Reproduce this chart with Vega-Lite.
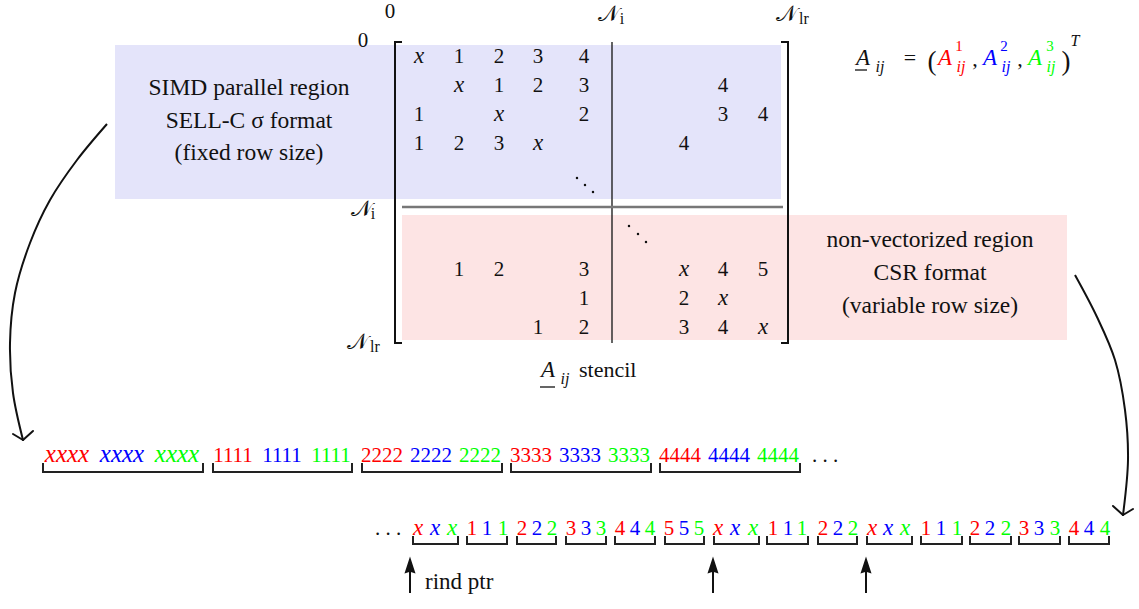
{
  "$schema": "https://vega.github.io/schema/vega-lite/v6.json",
  "width": 1139,
  "height": 609,
  "autosize": {"type": "fit", "contains": "padding"},
  "padding": 0,
  "background": "white",
  "config": {"view": {"stroke": null}, "text": {"font": "Liberation Serif"}},
  "datasets": {
    "matrix": [
      {"x": 419, "y": 63, "v": "x"}, {"x": 459, "y": 63, "v": "1"}, {"x": 499, "y": 63, "v": "2"}, {"x": 538, "y": 63, "v": "3"}, {"x": 584, "y": 63, "v": "4"},
      {"x": 459, "y": 92, "v": "x"}, {"x": 499, "y": 92, "v": "1"}, {"x": 538, "y": 92, "v": "2"}, {"x": 584, "y": 92, "v": "3"}, {"x": 723, "y": 92, "v": "4"},
      {"x": 419, "y": 121, "v": "1"}, {"x": 499, "y": 121, "v": "x"}, {"x": 584, "y": 121, "v": "2"}, {"x": 723, "y": 121, "v": "3"}, {"x": 763, "y": 121, "v": "4"},
      {"x": 419, "y": 150, "v": "1"}, {"x": 459, "y": 150, "v": "2"}, {"x": 499, "y": 150, "v": "3"}, {"x": 538, "y": 150, "v": "x"}, {"x": 684, "y": 150, "v": "4"},
      {"x": 459, "y": 276, "v": "1"}, {"x": 499, "y": 276, "v": "2"}, {"x": 584, "y": 276, "v": "3"}, {"x": 684, "y": 276, "v": "x"}, {"x": 723, "y": 276, "v": "4"}, {"x": 763, "y": 276, "v": "5"},
      {"x": 584, "y": 305, "v": "1"}, {"x": 684, "y": 305, "v": "2"}, {"x": 723, "y": 305, "v": "x"},
      {"x": 538, "y": 334, "v": "1"}, {"x": 584, "y": 334, "v": "2"}, {"x": 684, "y": 334, "v": "3"}, {"x": 723, "y": 334, "v": "4"}, {"x": 763, "y": 334, "v": "x"}
    ],
    "seq": [
      {"x": 67, "y": 462, "c": "1", "t": "xxxx"}, {"x": 122, "y": 462, "c": "2", "t": "xxxx"}, {"x": 177, "y": 462, "c": "3", "t": "xxxx"},
      {"x": 233, "y": 462, "c": "1", "t": "1111"}, {"x": 282, "y": 462, "c": "2", "t": "1111"}, {"x": 331, "y": 462, "c": "3", "t": "1111"},
      {"x": 382, "y": 462, "c": "1", "t": "2222"}, {"x": 431, "y": 462, "c": "2", "t": "2222"}, {"x": 480, "y": 462, "c": "3", "t": "2222"},
      {"x": 531, "y": 462, "c": "1", "t": "3333"}, {"x": 580, "y": 462, "c": "2", "t": "3333"}, {"x": 629, "y": 462, "c": "3", "t": "3333"},
      {"x": 680, "y": 462, "c": "1", "t": "4444"}, {"x": 729, "y": 462, "c": "2", "t": "4444"}, {"x": 778, "y": 462, "c": "3", "t": "4444"},
      {"x": 418, "y": 535, "c": "1", "t": "x"}, {"x": 435, "y": 535, "c": "2", "t": "x"}, {"x": 452, "y": 535, "c": "3", "t": "x"},
      {"x": 472, "y": 535, "c": "1", "t": "1"}, {"x": 487, "y": 535, "c": "2", "t": "1"}, {"x": 503, "y": 535, "c": "3", "t": "1"},
      {"x": 522, "y": 535, "c": "1", "t": "2"}, {"x": 537, "y": 535, "c": "2", "t": "2"}, {"x": 552, "y": 535, "c": "3", "t": "2"},
      {"x": 571, "y": 535, "c": "1", "t": "3"}, {"x": 586, "y": 535, "c": "2", "t": "3"}, {"x": 601, "y": 535, "c": "3", "t": "3"},
      {"x": 620, "y": 535, "c": "1", "t": "4"}, {"x": 635, "y": 535, "c": "2", "t": "4"}, {"x": 650, "y": 535, "c": "3", "t": "4"},
      {"x": 669, "y": 535, "c": "1", "t": "5"}, {"x": 684, "y": 535, "c": "2", "t": "5"}, {"x": 699, "y": 535, "c": "3", "t": "5"},
      {"x": 718, "y": 535, "c": "1", "t": "x"}, {"x": 735, "y": 535, "c": "2", "t": "x"}, {"x": 753, "y": 535, "c": "3", "t": "x"},
      {"x": 773, "y": 535, "c": "1", "t": "1"}, {"x": 788, "y": 535, "c": "2", "t": "1"}, {"x": 802, "y": 535, "c": "3", "t": "1"},
      {"x": 823, "y": 535, "c": "1", "t": "2"}, {"x": 838, "y": 535, "c": "2", "t": "2"}, {"x": 853, "y": 535, "c": "3", "t": "2"},
      {"x": 872, "y": 535, "c": "1", "t": "x"}, {"x": 888, "y": 535, "c": "2", "t": "x"}, {"x": 905, "y": 535, "c": "3", "t": "x"},
      {"x": 926, "y": 535, "c": "1", "t": "1"}, {"x": 941, "y": 535, "c": "2", "t": "1"}, {"x": 957, "y": 535, "c": "3", "t": "1"},
      {"x": 975, "y": 535, "c": "1", "t": "2"}, {"x": 990, "y": 535, "c": "2", "t": "2"}, {"x": 1006, "y": 535, "c": "3", "t": "2"},
      {"x": 1024, "y": 535, "c": "1", "t": "3"}, {"x": 1039, "y": 535, "c": "2", "t": "3"}, {"x": 1055, "y": 535, "c": "3", "t": "3"},
      {"x": 1074, "y": 535, "c": "1", "t": "4"}, {"x": 1089, "y": 535, "c": "2", "t": "4"}, {"x": 1105, "y": 535, "c": "3", "t": "4"}
    ],
    "brackets": [
      {"x1": 43, "x2": 203, "top": 464, "bot": 472}, {"x1": 213, "x2": 352, "top": 464, "bot": 472}, {"x1": 362, "x2": 502, "top": 464, "bot": 472},
      {"x1": 511, "x2": 651, "top": 464, "bot": 472}, {"x1": 660, "x2": 800, "top": 464, "bot": 472},
      {"x1": 413, "x2": 458, "top": 537, "bot": 544}, {"x1": 467, "x2": 507, "top": 537, "bot": 544}, {"x1": 517, "x2": 556, "top": 537, "bot": 544},
      {"x1": 566, "x2": 606, "top": 537, "bot": 544}, {"x1": 615, "x2": 655, "top": 537, "bot": 544}, {"x1": 665, "x2": 704, "top": 537, "bot": 544},
      {"x1": 714, "x2": 759, "top": 537, "bot": 544}, {"x1": 767, "x2": 808, "top": 537, "bot": 544}, {"x1": 818, "x2": 857, "top": 537, "bot": 544},
      {"x1": 867, "x2": 912, "top": 537, "bot": 544}, {"x1": 921, "x2": 962, "top": 537, "bot": 544}, {"x1": 970, "x2": 1011, "top": 537, "bot": 544},
      {"x1": 1019, "x2": 1060, "top": 537, "bot": 544}, {"x1": 1069, "x2": 1109, "top": 537, "bot": 544}
    ],
    "arrows": [
      {"x": 410, "y": 565, "bot": 593}, {"x": 713, "y": 565, "bot": 593}, {"x": 866, "y": 565, "bot": 593}
    ]
  },
  "layer": [
    {
      "data": {"values": [
        {"region": "SIMD", "x": 115, "x2": 781, "y": 45, "y2": 199},
        {"region": "CSR", "x": 402, "x2": 1067, "y": 215, "y2": 340}
      ]},
      "mark": {"type": "rect"},
      "encoding": {
        "x": {"field": "x", "type": "quantitative", "scale": {"domain": [0, 1139], "nice": false, "zero": false}, "axis": null},
        "x2": {"field": "x2"},
        "y": {"field": "y", "type": "quantitative", "scale": {"domain": [0, 609], "nice": false, "zero": false, "reverse": true}, "axis": null},
        "y2": {"field": "y2"},
        "fill": {"field": "region", "type": "nominal", "scale": {"domain": ["SIMD", "CSR"], "range": ["#e4e4fa", "#fde4e4"]}, "legend": null}
      }
    },
    {
      "data": {"values": [
        {"x": 395, "y": 42, "x2": 395, "y2": 343}, {"x": 395, "y": 42, "x2": 401, "y2": 42}, {"x": 395, "y": 343, "x2": 401, "y2": 343},
        {"x": 788, "y": 42, "x2": 788, "y2": 343}, {"x": 782, "y": 42, "x2": 788, "y2": 42}, {"x": 782, "y": 343, "x2": 788, "y2": 343}
      ]},
      "mark": {"type": "rule", "color": "#111", "strokeWidth": 2, "strokeCap": "square"},
      "encoding": {
        "x": {"field": "x", "type": "quantitative", "axis": null}, "x2": {"field": "x2"},
        "y": {"field": "y", "type": "quantitative", "axis": null}, "y2": {"field": "y2"}
      }
    },
    {
      "data": {"values": [{"x": 612, "y": 42, "x2": 612, "y2": 343}]},
      "mark": {"type": "rule", "color": "#111", "strokeWidth": 1.3},
      "encoding": {
        "x": {"field": "x", "type": "quantitative", "axis": null}, "x2": {"field": "x2"},
        "y": {"field": "y", "type": "quantitative", "axis": null}, "y2": {"field": "y2"}
      }
    },
    {
      "data": {"values": [{"x": 402, "y": 207, "x2": 783, "y2": 207}]},
      "mark": {"type": "rule", "color": "#777", "strokeWidth": 2.5},
      "encoding": {
        "x": {"field": "x", "type": "quantitative", "axis": null}, "x2": {"field": "x2"},
        "y": {"field": "y", "type": "quantitative", "axis": null}, "y2": {"field": "y2"}
      }
    },
    {
      "data": {"name": "matrix"},
      "transform": [{"filter": "datum.v != 'x'"}],
      "mark": {"type": "text", "fontSize": 21, "align": "center", "baseline": "alphabetic", "color": "#111"},
      "encoding": {
        "x": {"field": "x", "type": "quantitative", "axis": null},
        "y": {"field": "y", "type": "quantitative", "axis": null},
        "text": {"field": "v"}
      }
    },
    {
      "data": {"name": "matrix"},
      "transform": [{"filter": "datum.v == 'x'"}],
      "mark": {"type": "text", "fontSize": 23, "fontStyle": "italic", "align": "center", "baseline": "alphabetic", "color": "#111"},
      "encoding": {
        "x": {"field": "x", "type": "quantitative", "axis": null},
        "y": {"field": "y", "type": "quantitative", "axis": null},
        "text": {"field": "v"}
      }
    },
    {
      "data": {"values": [
        {"x": 577, "y": 178}, {"x": 585, "y": 185}, {"x": 593, "y": 192},
        {"x": 629, "y": 226}, {"x": 638, "y": 234}, {"x": 646, "y": 242}
      ]},
      "mark": {"type": "circle", "size": 6, "color": "#111", "opacity": 1},
      "encoding": {
        "x": {"field": "x", "type": "quantitative", "axis": null},
        "y": {"field": "y", "type": "quantitative", "axis": null}
      }
    },
    {
      "data": {"values": [{"x": 390, "y": 18, "t": "0"}, {"x": 363, "y": 47, "t": "0"}]},
      "mark": {"type": "text", "fontSize": 21, "align": "center", "baseline": "alphabetic", "color": "#111"},
      "encoding": {
        "x": {"field": "x", "type": "quantitative", "axis": null},
        "y": {"field": "y", "type": "quantitative", "axis": null},
        "text": {"field": "t"}
      }
    },
    {
      "data": {"values": [{"x": 608, "y": 21, "t": "𝒩"}, {"x": 786, "y": 21, "t": "𝒩"}, {"x": 361, "y": 216, "t": "𝒩"}, {"x": 357, "y": 349, "t": "𝒩"}]},
      "mark": {"type": "text", "fontSize": 22, "align": "center", "baseline": "alphabetic", "color": "#111"},
      "encoding": {
        "x": {"field": "x", "type": "quantitative", "axis": null},
        "y": {"field": "y", "type": "quantitative", "axis": null},
        "text": {"field": "t"}
      }
    },
    {
      "data": {"values": [{"x": 622, "y": 24, "t": "i"}, {"x": 804, "y": 24, "t": "lr"}, {"x": 373, "y": 219, "t": "i"}, {"x": 375, "y": 352, "t": "lr"}]},
      "mark": {"type": "text", "fontSize": 16, "align": "center", "baseline": "alphabetic", "color": "#111"},
      "encoding": {
        "x": {"field": "x", "type": "quantitative", "axis": null},
        "y": {"field": "y", "type": "quantitative", "axis": null},
        "text": {"field": "t"}
      }
    },
    {
      "data": {"values": [
        {"x": 249, "y": 95, "t": "SIMD parallel region"}, {"x": 249, "y": 128, "t": "SELL-C σ format"}, {"x": 249, "y": 160, "t": "(fixed row size)"},
        {"x": 930, "y": 247, "t": "non-vectorized region"}, {"x": 930, "y": 280, "t": "CSR format"}, {"x": 930, "y": 313, "t": "(variable row size)"}
      ]},
      "mark": {"type": "text", "fontSize": 23.5, "align": "center", "baseline": "alphabetic", "color": "#111"},
      "encoding": {
        "x": {"field": "x", "type": "quantitative", "axis": null},
        "y": {"field": "y", "type": "quantitative", "axis": null},
        "text": {"field": "t"}
      }
    },
    {
      "data": {"values": [
        {"x": 863, "y": 65, "c": "0", "t": "A"}, {"x": 945, "y": 65, "c": "1", "t": "A"}, {"x": 990, "y": 65, "c": "2", "t": "A"}, {"x": 1035, "y": 65, "c": "3", "t": "A"},
        {"x": 548, "y": 377, "c": "0", "t": "A"}
      ]},
      "mark": {"type": "text", "fontSize": 23, "fontStyle": "italic", "align": "center", "baseline": "alphabetic"},
      "encoding": {
        "x": {"field": "x", "type": "quantitative", "axis": null},
        "y": {"field": "y", "type": "quantitative", "axis": null},
        "text": {"field": "t"},
        "color": {"field": "c", "type": "nominal", "scale": {"domain": ["0", "1", "2", "3"], "range": ["#111111", "#ff0000", "#0000ff", "#00ff00"]}, "legend": null}
      }
    },
    {
      "data": {"values": [
        {"x": 880, "y": 72, "c": "0", "t": "ij"}, {"x": 961, "y": 72, "c": "1", "t": "ij"}, {"x": 1006, "y": 72, "c": "2", "t": "ij"}, {"x": 1051, "y": 72, "c": "3", "t": "ij"},
        {"x": 565, "y": 384, "c": "0", "t": "ij"}, {"x": 1075, "y": 46, "c": "0", "t": "T"}
      ]},
      "mark": {"type": "text", "fontSize": 16, "fontStyle": "italic", "align": "center", "baseline": "alphabetic"},
      "encoding": {
        "x": {"field": "x", "type": "quantitative", "axis": null},
        "y": {"field": "y", "type": "quantitative", "axis": null},
        "text": {"field": "t"},
        "color": {"field": "c", "type": "nominal", "scale": {"domain": ["0", "1", "2", "3"], "range": ["#111111", "#ff0000", "#0000ff", "#00ff00"]}, "legend": null}
      }
    },
    {
      "data": {"values": [
        {"x": 959, "y": 51, "c": "1", "t": "1"}, {"x": 1004, "y": 51, "c": "2", "t": "2"}, {"x": 1050, "y": 51, "c": "3", "t": "3"}
      ]},
      "mark": {"type": "text", "fontSize": 15, "align": "center", "baseline": "alphabetic"},
      "encoding": {
        "x": {"field": "x", "type": "quantitative", "axis": null},
        "y": {"field": "y", "type": "quantitative", "axis": null},
        "text": {"field": "t"},
        "color": {"field": "c", "type": "nominal", "scale": {"domain": ["0", "1", "2", "3"], "range": ["#111111", "#ff0000", "#0000ff", "#00ff00"]}, "legend": null}
      }
    },
    {
      "data": {"values": [
        {"x": 910, "y": 65, "t": "="}, {"x": 975, "y": 66, "t": ","}, {"x": 1020, "y": 66, "t": ","}
      ]},
      "mark": {"type": "text", "fontSize": 22, "align": "center", "baseline": "alphabetic", "color": "#111"},
      "encoding": {
        "x": {"field": "x", "type": "quantitative", "axis": null},
        "y": {"field": "y", "type": "quantitative", "axis": null},
        "text": {"field": "t"}
      }
    },
    {
      "data": {"values": [{"x": 932, "y": 70, "t": "("}, {"x": 1066, "y": 70, "t": ")"}]},
      "mark": {"type": "text", "fontSize": 27, "align": "center", "baseline": "alphabetic", "color": "#111"},
      "encoding": {
        "x": {"field": "x", "type": "quantitative", "axis": null},
        "y": {"field": "y", "type": "quantitative", "axis": null},
        "text": {"field": "t"}
      }
    },
    {
      "data": {"values": [{"x": 579, "y": 377, "t": "stencil"}]},
      "mark": {"type": "text", "fontSize": 22, "align": "left", "baseline": "alphabetic", "color": "#111"},
      "encoding": {
        "x": {"field": "x", "type": "quantitative", "axis": null},
        "y": {"field": "y", "type": "quantitative", "axis": null},
        "text": {"field": "t"}
      }
    },
    {
      "data": {"values": [{"x": 855, "y": 70, "x2": 867, "y2": 70}, {"x": 540, "y": 387, "x2": 555, "y2": 387}]},
      "mark": {"type": "rule", "color": "#111", "strokeWidth": 1.3},
      "encoding": {
        "x": {"field": "x", "type": "quantitative", "axis": null}, "x2": {"field": "x2"},
        "y": {"field": "y", "type": "quantitative", "axis": null}, "y2": {"field": "y2"}
      }
    },
    {
      "data": {"name": "seq"},
      "transform": [{"filter": "indexof(datum.t, 'x') < 0"}],
      "mark": {"type": "text", "fontSize": 21, "align": "center", "baseline": "alphabetic"},
      "encoding": {
        "x": {"field": "x", "type": "quantitative", "axis": null},
        "y": {"field": "y", "type": "quantitative", "axis": null},
        "text": {"field": "t"},
        "color": {"field": "c", "type": "nominal", "scale": {"domain": ["0", "1", "2", "3"], "range": ["#111111", "#ff0000", "#0000ff", "#00ff00"]}, "legend": null}
      }
    },
    {
      "data": {"name": "seq"},
      "transform": [{"filter": "datum.t == 'x'"}],
      "mark": {"type": "text", "fontSize": 23, "fontStyle": "italic", "align": "center", "baseline": "alphabetic"},
      "encoding": {
        "x": {"field": "x", "type": "quantitative", "axis": null},
        "y": {"field": "y", "type": "quantitative", "axis": null},
        "text": {"field": "t"},
        "color": {"field": "c", "type": "nominal", "scale": {"domain": ["0", "1", "2", "3"], "range": ["#111111", "#ff0000", "#0000ff", "#00ff00"]}, "legend": null}
      }
    },
    {
      "data": {"name": "seq"},
      "transform": [{"filter": "datum.t == 'xxxx'"}],
      "mark": {"type": "text", "fontSize": 25, "fontStyle": "italic", "align": "center", "baseline": "alphabetic"},
      "encoding": {
        "x": {"field": "x", "type": "quantitative", "axis": null},
        "y": {"field": "y", "type": "quantitative", "axis": null},
        "text": {"field": "t"},
        "color": {"field": "c", "type": "nominal", "scale": {"domain": ["0", "1", "2", "3"], "range": ["#111111", "#ff0000", "#0000ff", "#00ff00"]}, "legend": null}
      }
    },
    {
      "data": {"name": "brackets"},
      "mark": {"type": "rule", "color": "#222", "strokeWidth": 2, "strokeCap": "square"},
      "encoding": {
        "x": {"field": "x1", "type": "quantitative", "axis": null}, "x2": {"field": "x2"},
        "y": {"field": "bot", "type": "quantitative", "axis": null}
      }
    },
    {
      "data": {"name": "brackets"},
      "mark": {"type": "rule", "color": "#222", "strokeWidth": 2, "strokeCap": "square"},
      "encoding": {
        "x": {"field": "x1", "type": "quantitative", "axis": null},
        "y": {"field": "top", "type": "quantitative", "axis": null}, "y2": {"field": "bot"}
      }
    },
    {
      "data": {"name": "brackets"},
      "mark": {"type": "rule", "color": "#222", "strokeWidth": 2, "strokeCap": "square"},
      "encoding": {
        "x": {"field": "x2", "type": "quantitative", "axis": null},
        "y": {"field": "top", "type": "quantitative", "axis": null}, "y2": {"field": "bot"}
      }
    },
    {
      "data": {"values": [{"x": 825, "y": 462, "t": ". . ."}, {"x": 388, "y": 535, "t": ". . ."}]},
      "mark": {"type": "text", "fontSize": 21, "align": "center", "baseline": "alphabetic", "color": "#111"},
      "encoding": {
        "x": {"field": "x", "type": "quantitative", "axis": null},
        "y": {"field": "y", "type": "quantitative", "axis": null},
        "text": {"field": "t"}
      }
    },
    {
      "data": {"name": "arrows"},
      "mark": {"type": "rule", "color": "#111", "strokeWidth": 2},
      "encoding": {
        "x": {"field": "x", "type": "quantitative", "axis": null},
        "y": {"field": "y", "type": "quantitative", "axis": null}, "y2": {"field": "bot"}
      }
    },
    {
      "data": {"name": "arrows"},
      "mark": {"type": "point", "shape": "M0,-1L0.65,1L0,0.8L-0.65,1Z", "size": 289, "filled": true, "color": "#111", "opacity": 1},
      "encoding": {
        "x": {"field": "x", "type": "quantitative", "axis": null},
        "y": {"field": "y", "type": "quantitative", "axis": null}
      }
    },
    {
      "data": {"values": [{"x": 425, "y": 589, "t": "rind ptr"}]},
      "mark": {"type": "text", "fontSize": 23, "align": "left", "baseline": "alphabetic", "color": "#111"},
      "encoding": {
        "x": {"field": "x", "type": "quantitative", "axis": null},
        "y": {"field": "y", "type": "quantitative", "axis": null},
        "text": {"field": "t"}
      }
    },
    {
      "data": {"values": [
        {"curve": "left", "i": 0, "x": 107, "y": 124}, {"curve": "left", "i": 1, "x": 77, "y": 160}, {"curve": "left", "i": 2, "x": 50, "y": 200},
        {"curve": "left", "i": 3, "x": 30, "y": 243}, {"curve": "left", "i": 4, "x": 15, "y": 293}, {"curve": "left", "i": 5, "x": 10, "y": 343},
        {"curve": "left", "i": 6, "x": 13, "y": 393}, {"curve": "left", "i": 7, "x": 23, "y": 440},
        {"curve": "right", "i": 0, "x": 1075, "y": 275}, {"curve": "right", "i": 1, "x": 1097, "y": 317}, {"curve": "right", "i": 2, "x": 1115, "y": 360},
        {"curve": "right", "i": 3, "x": 1125, "y": 410}, {"curve": "right", "i": 4, "x": 1128, "y": 460}, {"curve": "right", "i": 5, "x": 1123, "y": 515}
      ]},
      "mark": {"type": "line", "interpolate": "catmull-rom", "color": "#111", "strokeWidth": 2},
      "encoding": {
        "x": {"field": "x", "type": "quantitative", "axis": null},
        "y": {"field": "y", "type": "quantitative", "axis": null},
        "detail": {"field": "curve"},
        "order": {"field": "i", "type": "quantitative"}
      }
    },
    {
      "data": {"values": [
        {"x": 23, "y": 440, "x2": 13, "y2": 434}, {"x": 23, "y": 440, "x2": 33, "y2": 431},
        {"x": 1123, "y": 515, "x2": 1113, "y2": 506}, {"x": 1123, "y": 515, "x2": 1133, "y2": 509}
      ]},
      "mark": {"type": "rule", "color": "#111", "strokeWidth": 2, "strokeCap": "round"},
      "encoding": {
        "x": {"field": "x", "type": "quantitative", "axis": null}, "x2": {"field": "x2"},
        "y": {"field": "y", "type": "quantitative", "axis": null}, "y2": {"field": "y2"}
      }
    }
  ]
}
